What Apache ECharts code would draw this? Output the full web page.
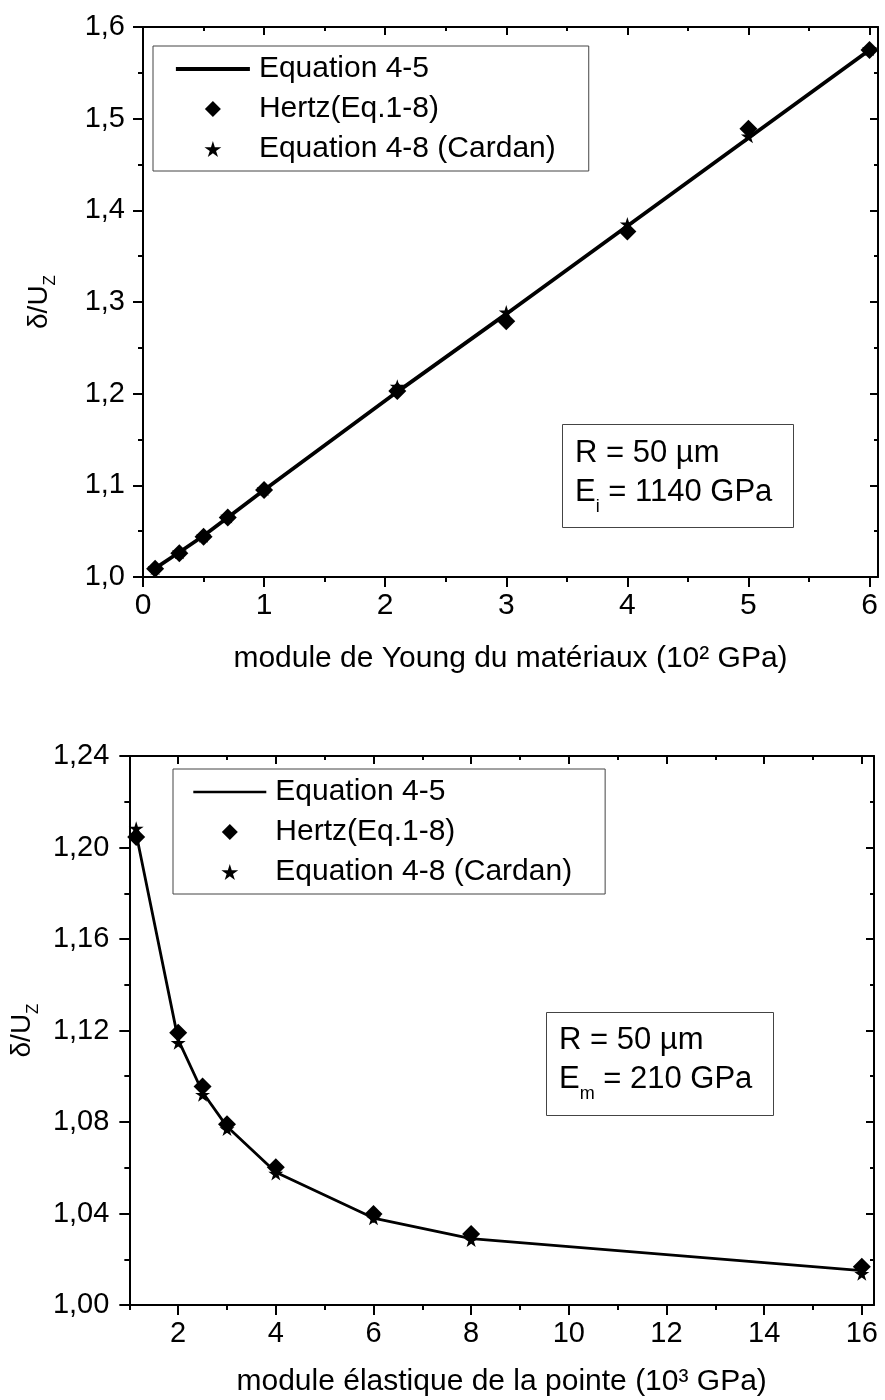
<!DOCTYPE html>
<html><head><meta charset="utf-8">
<script src="https://cdn.jsdelivr.net/npm/echarts@6/dist/echarts.min.js"></script>
<style>html,body{margin:0;padding:0;background:#fff}#c{width:885px;height:1400px}</style>
</head><body><div id="c"></div>
<script>
const FONT = '"Liberation Sans", Arial, sans-serif';

// ---- Panel A data ----
const xA      = [0.1, 0.3, 0.5, 0.7, 1, 2.1, 3, 4, 5, 6];
const eqA     = [1.0095, 1.027, 1.045, 1.065, 1.095, 1.202, 1.287, 1.383, 1.479, 1.575];
const hertzA  = [1.009, 1.026, 1.044, 1.065, 1.095, 1.203, 1.279, 1.377, 1.489, 1.575];
const cardanA = [1.010, 1.027, 1.045, 1.066, 1.096, 1.208, 1.289, 1.385, 1.481, 1.576];
const xTicksA      = [0, 1, 2, 3, 4, 5, 6];
const xMinorTicksA = [0.5, 1.5, 2.5, 3.5, 4.5, 5.5];
const yTicksA      = [1.0, 1.1, 1.2, 1.3, 1.4, 1.5, 1.6];
const yMinorTicksA = [1.05, 1.15, 1.25, 1.35, 1.45, 1.55];

// ---- Panel B data ----
const xB      = [1.14, 2, 2.5, 3, 4, 6, 8, 16];
const eqB     = [1.206, 1.116, 1.093, 1.078, 1.058, 1.038, 1.029, 1.015];
const hertzB  = [1.2046, 1.119, 1.0955, 1.079, 1.0602, 1.0398, 1.031, 1.0167];
const cardanB = [1.2084, 1.1147, 1.092, 1.077, 1.0575, 1.038, 1.0285, 1.0137];
const xTicksB      = [2, 4, 6, 8, 10, 12, 14, 16];
const xMinorTicksB = [1, 3, 5, 7, 9, 11, 13, 15];
const yTicksB      = [1.00, 1.04, 1.08, 1.12, 1.16, 1.20, 1.24];
const yMinorTicksB = [1.02, 1.06, 1.10, 1.14, 1.18, 1.22];

const names = ['Equation 4-5', 'Hertz(Eq.1-8)', 'Equation 4-8 (Cardan)'];
const STAR = 'path://M50,0 L61,35 L98,35 L68,57 L79,91 L50,70 L21,91 L32,57 L2,35 L39,35 Z';
const DIAMOND = 'path://M50,0 L100,50 L50,100 L0,50 Z';

const AX = {color: '#000', width: 2};

function xAxes(grid, min, max, major, minor, fmt, fs, name, nameGap) {
  const base = {type: 'value', gridIndex: grid, min: min, max: max, splitLine: {show: false}, axisLine: {show: false, onZero: false}};
  return [
    Object.assign({}, base, {position: 'bottom', axisLine: {show: true, onZero: false, lineStyle: AX},
      axisTick: {show: true, customValues: major, length: 10, lineStyle: AX},
      axisLabel: {show: true, customValues: major, formatter: fmt, fontSize: fs, fontFamily: FONT, color: '#000', margin: 14},
      name: name, nameLocation: 'middle', nameGap: nameGap,
      nameTextStyle: {fontSize: 30, fontFamily: FONT, color: '#000'}}),
    Object.assign({}, base, {position: 'bottom', axisTick: {show: true, customValues: minor, length: 5, lineStyle: AX}, axisLabel: {show: false}}),
    Object.assign({}, base, {position: 'top', axisLine: {show: true, onZero: false, lineStyle: AX},
      axisTick: {show: true, inside: true, customValues: major, length: 8, lineStyle: AX}, axisLabel: {show: false}}),
    Object.assign({}, base, {position: 'top', axisTick: {show: true, inside: true, customValues: minor, length: 4, lineStyle: AX}, axisLabel: {show: false}})
  ];
}
function yAxes(grid, min, max, major, minor, fmt, fs, margin, nameGap) {
  const base = {type: 'value', gridIndex: grid, min: min, max: max, splitLine: {show: false}, axisLine: {show: false, onZero: false}};
  return [
    Object.assign({}, base, {position: 'left', axisLine: {show: true, onZero: false, lineStyle: AX},
      axisTick: {show: true, customValues: major, length: 10, lineStyle: AX},
      axisLabel: {show: true, customValues: major, formatter: fmt, fontSize: fs, fontFamily: FONT, color: '#000', margin: margin},
      name: '{a|δ/U}{s|Z}', nameLocation: 'middle', nameGap: nameGap,
      nameTextStyle: {fontSize: 28, fontFamily: FONT, color: '#000',
        rich: {a: {fontSize: 28, fontFamily: FONT, color: '#000', lineHeight: 40},
               s: {fontSize: 17, fontFamily: FONT, color: '#000', lineHeight: 17, verticalAlign: 'bottom'}}}}),
    Object.assign({}, base, {position: 'left', axisTick: {show: true, customValues: minor, length: 5, lineStyle: AX}, axisLabel: {show: false}}),
    Object.assign({}, base, {position: 'right', axisLine: {show: true, onZero: false, lineStyle: AX},
      axisTick: {show: true, inside: true, customValues: major, length: 8, lineStyle: AX}, axisLabel: {show: false}}),
    Object.assign({}, base, {position: 'right', axisTick: {show: true, inside: true, customValues: minor, length: 4, lineStyle: AX}, axisLabel: {show: false}})
  ];
}

const fmtInt = v => String(Math.round(v));
const fmt1 = v => v.toFixed(1).replace('.', ',');
const fmt2 = v => v.toFixed(2).replace('.', ',');

const xAxis = [].concat(
  xAxes(0, 0, 6.07, xTicksA, xMinorTicksA, fmtInt, 30, 'module de Young du matériaux (10² GPa)', 67),
  xAxes(1, 1, 16.25, xTicksB, xMinorTicksB, fmtInt, 29, 'module élastique de la pointe (10³ GPa)', 62)
);
const yAxis = [].concat(
  yAxes(0, 1.0, 1.6, yTicksA, yMinorTicksA, fmt1, 29, 18, 84),
  yAxes(1, 1.0, 1.24, yTicksB, yMinorTicksB, fmt2, 29, 20, 70)
);

function panelSeries(axIdx, xs, eq, hz, cd, lw) {
  const pts = arr => xs.map((x, i) => [x, arr[i]]);
  return [
    {type: 'line', name: names[0], xAxisIndex: axIdx, yAxisIndex: axIdx, data: pts(eq), symbol: 'none',
     lineStyle: {color: '#000', width: lw}, itemStyle: {color: '#000'}, z: 2},
    {type: 'scatter', name: names[1], xAxisIndex: axIdx, yAxisIndex: axIdx, data: pts(hz), symbol: DIAMOND,
     symbolSize: 18, symbolKeepAspect: true, itemStyle: {color: '#000', opacity: 1}, z: 3},
    {type: 'scatter', name: names[2], xAxisIndex: axIdx, yAxisIndex: axIdx, data: pts(cd), symbol: STAR,
     symbolSize: 15, symbolKeepAspect: true, itemStyle: {color: '#000', opacity: 1}, z: 4}
  ];
}

function legendFor(left, top, lw, itemWidth, pad) {
  return {
    show: true, orient: 'vertical', left: left, top: top, selectedMode: false,
    itemWidth: itemWidth, itemHeight: 16, itemGap: 10, padding: pad,
    borderColor: '#444', borderWidth: 1, backgroundColor: '#fff',
    textStyle: {fontSize: 30, lineHeight: 30, fontFamily: FONT, color: '#000', padding: [0, 0, 0, 4]},
    data: [
      {name: names[0], lineStyle: {color: '#000', width: lw}, itemStyle: {color: 'rgba(0,0,0,0)', borderWidth: 0, opacity: 0}},
      {name: names[1], icon: DIAMOND, itemStyle: {color: '#000', opacity: 1}},
      {name: names[2], icon: STAR, itemStyle: {color: '#000', opacity: 1}}
    ]
  };
}

const boxRich = {
  r: {fontSize: 31, fontFamily: FONT, fill: '#000', lineHeight: 30},
  a: {fontSize: 31, fontFamily: FONT, fill: '#000', lineHeight: 48},
  s: {fontSize: 18, fontFamily: FONT, fill: '#000', lineHeight: 18, verticalAlign: 'bottom'}
};

const option = {
  animation: false,
  backgroundColor: '#fff',
  grid: [
    {left: 143, right: 7, top: 27, bottom: 823},
    {left: 128, right: 11, top: 756, bottom: 95}
  ],
  xAxis: xAxis,
  yAxis: yAxis,
  legend: [
    legendFor(153, 46, 3.8, 74, [8, 33, 7, 21]),
    legendFor(173, 769, 2.6, 73, [8, 33, 7, 19])
  ],
  series: [].concat(
    panelSeries(0, xA, eqA, hertzA, cardanA, 3.8),
    panelSeries(4, xB, eqB, hertzB, cardanB, 2.8)
  ),
  graphic: [
    {type: 'rect', left: 562, top: 424, shape: {width: 231, height: 103}, style: {fill: '#fff', stroke: '#444', lineWidth: 1}, z: 10},
    {type: 'text', left: 575, top: 438, style: {text: '{r|R = 50 µm}\n{a|E}{s|i}{a| = 1140 GPa}', rich: boxRich}, z: 11},
    {type: 'rect', left: 546, top: 1012, shape: {width: 227, height: 103}, style: {fill: '#fff', stroke: '#444', lineWidth: 1}, z: 10},
    {type: 'text', left: 559, top: 1025, style: {text: '{r|R = 50 µm}\n{a|E}{s|m}{a| = 210 GPa}', rich: boxRich}, z: 11}
  ]
};

const chart = echarts.init(document.getElementById('c'), null, {renderer: 'canvas'});
chart.setOption(option);
</script>
</body></html>
